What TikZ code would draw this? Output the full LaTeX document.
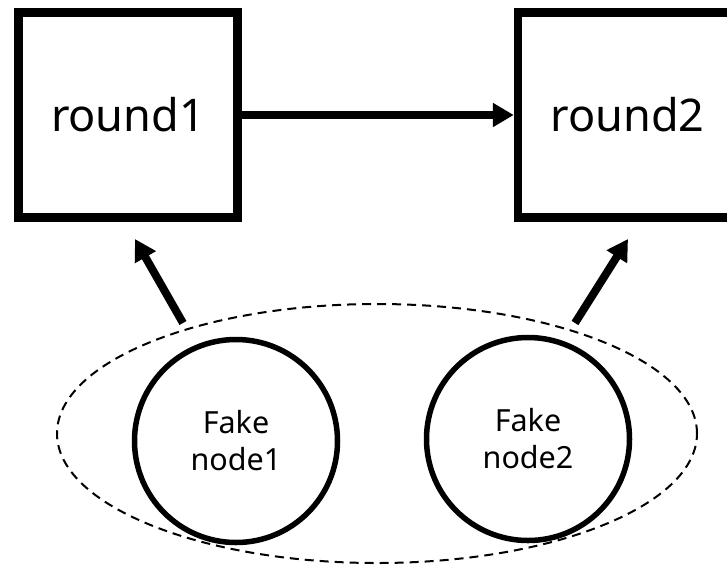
\documentclass[tikz,border=0pt]{standalone}
\usepackage{fontspec}
\setmainfont{Noto Sans}
\usetikzlibrary{arrows.meta,shapes.geometric}

\tikzset{
  roundbox/.style={draw, line width=8.5pt, minimum width=219pt, minimum height=205pt,
    inner sep=0pt, font=\fontsize{45}{52}\selectfont},
  fakenode/.style={draw, circle, line width=5.5pt, minimum size=203pt, inner sep=0pt,
    align=center, font=\fontsize{30.5}{37}\selectfont},
  group/.style={draw, ellipse, dashed, line width=2pt, dash pattern=on 9pt off 6pt,
    minimum width=640pt, minimum height=259pt, inner sep=0pt},
  link/.style={line width=8pt, -{Triangle[length=21pt, width=23pt]}}
}

\begin{document}
\begin{tikzpicture}[x=1pt, y=-1pt]
  \useasboundingbox (0,0) rectangle (727,571);
  \clip (0,0) rectangle (727,571);

  % dashed grouping of the two fake nodes
  \node[group] (grp) at (377,433.5) {};

  % the two rounds
  \node[roundbox] (r1) at (128,115) {round1};
  \node[roundbox] (r2) at (627.5,115) {round2};

  % fake nodes
  \node[fakenode] (f1) at (236,441) {Fake\\node1};
  \node[fakenode] (f2) at (528,439) {Fake\\node2};

  % arrow end points between the group and the rounds
  \coordinate (t1) at (183,323);
  \coordinate (h1) at (135,239);
  \coordinate (t2) at (575,323);
  \coordinate (h2) at (628,239);

  \draw[link] (r1) -- (r2);
  \draw[link] (t1) -- (h1);
  \draw[link] (t2) -- (h2);
\end{tikzpicture}
\end{document}
